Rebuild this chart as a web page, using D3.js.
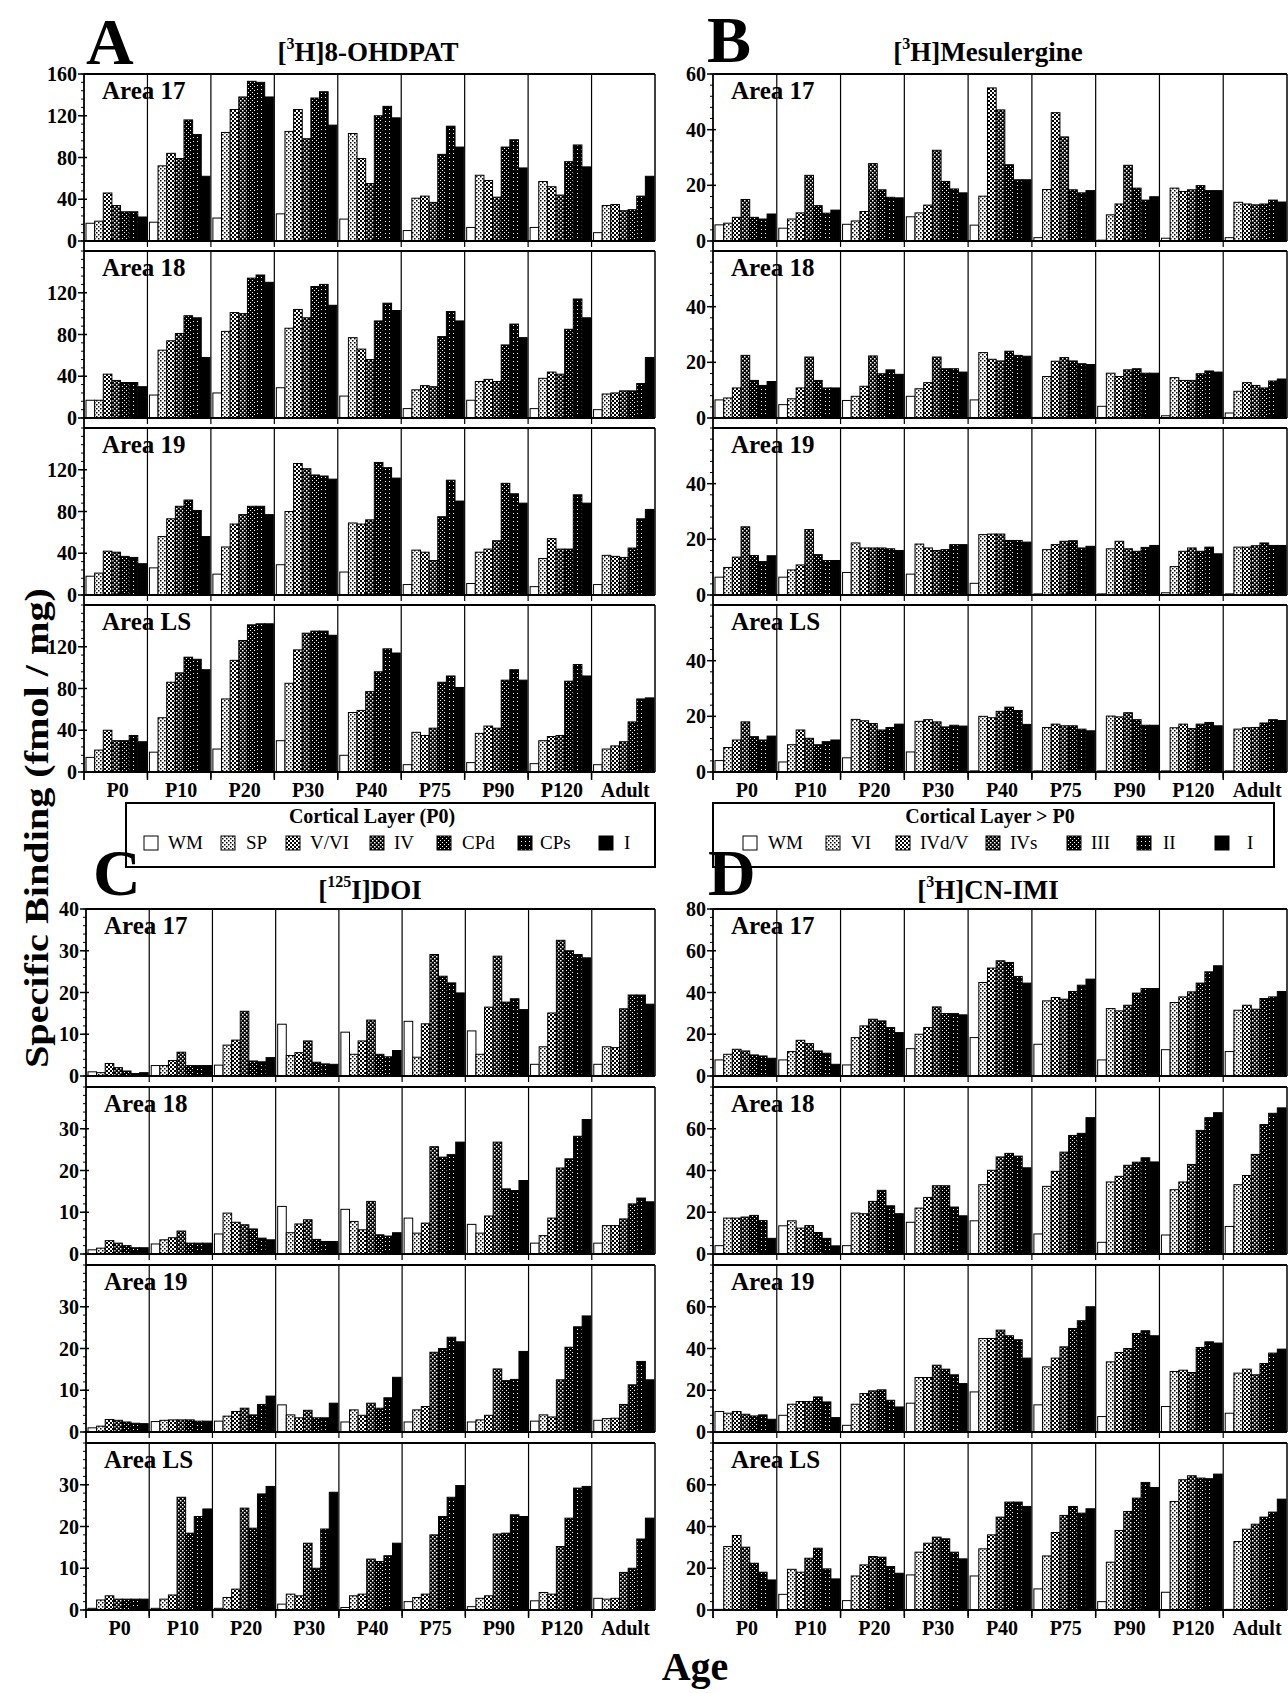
<!DOCTYPE html>
<html>
<head>
<meta charset="utf-8">
<script src="https://cdn.jsdelivr.net/npm/d3@7"></script>
<style>
  body { margin: 0; background: #fff; }
  svg { display: block; font-family: "Liberation Serif", "Times New Roman", serif; }
</style>
</head>
<body>
<svg id="fig"></svg>
<script>
// categories
const ages = ["P0", "P10", "P20", "P30", "P40", "P75", "P90", "P120", "Adult"];
const areas = ["Area 17", "Area 18", "Area 19", "Area LS"];
const layersP0 = ["WM", "SP", "V/VI", "IV", "CPd", "CPs", "I"];
const layersOlder = ["WM", "VI", "IVd/V", "IVs", "III", "II", "I"];

// A: [3H]8-OHDPAT, one row per age, 7 layers each
const ohdpat17 = [
  [17,19,46,34,28,28,23],[18,72,84,79,116,102,62],[22,104,126,138,153,152,138],
  [26,105,126,98,137,143,111],[21,103,79,55,120,129,118],[10,41,43,37,83,110,90],
  [13,63,58,42,90,97,70],[13,57,52,44,76,92,71],[8,34,35,29,30,43,62]];
const ohdpat18 = [
  [17,17,42,36,34,34,30],[22,65,74,81,98,96,58],[24,83,101,100,134,137,130],
  [29,86,104,96,126,128,108],[21,77,66,56,93,110,103],[9,27,31,30,78,102,93],
  [17,35,37,35,70,90,77],[9,38,44,42,85,114,96],[8,23,24,26,26,33,58]];
const ohdpat19 = [
  [18,21,42,41,37,36,30],[26,56,73,85,91,81,56],[20,46,68,77,85,85,77],
  [29,80,126,121,115,114,111],[22,69,68,72,127,122,112],[10,43,41,33,75,110,90],
  [11,41,44,52,107,97,88],[8,35,54,44,44,96,88],[10,38,37,36,45,73,82]];
const ohdpatLS = [
  [14,21,40,30,30,35,29],[19,52,86,95,110,108,98],[22,70,107,126,141,142,142],
  [30,85,117,133,135,135,131],[16,57,59,77,96,118,114],[7,38,35,42,86,92,81],
  [9,37,44,42,88,98,88],[8,30,34,35,87,103,92],[7,22,25,29,48,70,71]];

// B: [3H]Mesulergine
const mesul17 = [
  [5.8,6.4,8.5,14.9,8.5,7.9,9.7],[4.6,7.9,10.1,23.6,12.7,10,11.1],[6,7.2,10.6,27.8,18.4,15.7,15.5],
  [8.7,10.1,12.9,32.6,21.4,18.7,17.3],[5.7,16.1,55,47.1,27.4,22,22],[1.2,18.5,46.1,37.4,18.4,17.3,18.1],
  [0.3,9.4,13.3,27.2,19,14.7,15.9],[1,19,17.8,18.4,19.9,18.1,18.1],[1.2,13.9,13.3,13,13.3,14.7,14]];
const mesul18 = [
  [6.5,7.2,10.8,22.5,13.5,11.7,13.1],[4.8,6.9,10.8,21.9,13.5,10.8,10.8],[6.3,7.8,11.4,22.3,15.9,17.3,15.7],
  [7.8,10.5,12.7,21.9,17.7,17.7,16.5],[6.5,23.5,21.1,20.5,24,22.5,22.2],[0.2,14.9,20.4,21.7,20.5,19.5,19.2],
  [4.2,16.1,14.9,17.3,17.7,16.1,16.1],[0.8,14.5,13.5,13.5,15.9,16.9,16.5],[1.8,9.6,12.7,11.7,10.8,13.3,14]];
const mesul19 = [
  [6.4,9.9,13.6,24.5,14.2,12,14.1],[6.4,9,10.8,23.5,14.5,12.4,12.4],[8.1,18.7,16.9,16.9,16.9,16.6,16],
  [7.5,18.3,16.9,16,16.3,18.1,18.1],[4.2,21.7,21.9,21.9,19.6,19.6,19],[0.4,16.3,18.1,19.3,19.5,16.9,17.5],
  [0.4,16.6,19.3,16.6,15.7,17.1,17.8],[0.8,10.2,15.7,16.9,15.7,17.2,14.8],[0.4,17.2,17.2,17.7,18.7,17.8,17.8]];
const mesulLS = [
  [4.1,8.8,11.5,18,12.7,11.5,12.9],[3.6,9.8,15.1,12.1,9.8,10.9,11.5],[5.1,18.9,18.4,17.4,15.1,16,17.2],
  [7.2,18.2,18.8,18,16.2,16.8,16.5],[0.4,20,19.5,21.8,23.3,22.1,17.1],[0.4,16,17.2,16.6,16.6,15.4,14.8],
  [0.4,20.1,19.8,21.3,18.8,16.8,16.8],[0.4,15.9,17.2,15.6,17.2,17.8,16.6],[0.4,15.4,15.9,16,17.6,18.8,18.5]];

// C: [125I]DOI
const doi17 = [
  [1,0.8,3,2,1.2,0.6,0.8],[2.5,2.5,3.7,5.7,2.5,2.5,2.5],[2.6,7.4,8.6,15.5,3.6,3.4,4.4],
  [12.4,4.9,5.6,8.4,3.3,2.9,2.8],[10.5,5.2,8.4,13.4,5.2,4.6,6.1],[13.1,4.5,12.5,29.1,23.9,22.3,19.9],
  [10.8,5.2,16.5,28.7,17.7,18.5,15.9],[2.8,7,15.1,32.5,30,29.1,28.3],[2.8,7,6.8,16.1,19.4,19.4,17.2]];
const doi18 = [
  [1,1.4,3.2,2.6,2,1.5,1.5],[2.4,3.4,3.9,5.5,2.6,2.6,2.6],[4.8,9.8,7.6,7,6,3.8,3.4],
  [11.4,5.1,7.2,8.2,3.5,3,3],[10.7,7.8,5.8,12.6,4.6,4.3,5.1],[8.6,5,7.4,25.7,23.2,23.8,26.8],
  [7.1,5,9.1,26.8,15.6,15.2,17.6],[2.6,4.4,8.6,20.6,22.8,28.2,32.2],[2.6,6.8,6.8,8.4,12,13.4,12.5]];
const doi19 = [
  [1,1.4,3,2.8,2.4,2.1,2],[2.5,2.8,2.9,2.9,2.9,2.6,2.6],[2.6,3.8,4.9,5.7,4.1,6.6,8.6],
  [6.5,4.1,3.4,5.2,3.4,3.4,6.9],[2.4,5.3,4,6.9,5.7,8.2,13.1],[2.4,5.3,6.1,19.1,20,22.7,21.6],
  [2.4,2.9,4,15.1,12.3,12.6,19.3],[2.6,4.1,3.6,12.5,20.3,25.2,27.8],[2.8,3.2,3.3,6.6,11.3,16.9,12.5]];
const doiLS = [
  [0.4,2.4,3.4,2.6,2.6,2.6,2.6],[0.4,2.6,3.6,27,18.4,22.4,24.2],[0.4,3,5,24.4,19.6,27.8,29.6],
  [1.4,3.8,3.4,16,10,19.4,28.2],[0.6,3.4,3.8,12.2,11.6,13,16],[2,3,3.8,18,22.4,27,29.8],
  [0.8,2.8,3.4,18.2,18.4,22.8,22.4],[2.2,4.2,3.8,15.2,22,29.2,29.6],[2.8,2.6,2.8,9,10,17,22]];

// D: [3H]CN-IMI
const cnimi17 = [
  [7.7,10.4,12.8,12,10.1,9.6,8.5],[7.7,11.7,17.1,15.5,12,10.9,5.6],[5.3,18.4,24,27.2,26.4,23.2,20.8],
  [13.1,20,23.2,33.1,29.9,29.9,29.3],[18.4,44.8,51.7,55.2,54.4,47.7,44.5],[15.2,36,37.6,36.8,40.5,43.5,46.4],
  [7.7,32.3,31.2,33.9,39.7,41.9,41.9],[12.6,35.2,37.9,40.3,44.5,49.9,52.8],[11.7,31.5,33.9,32,37.1,37.9,40.5]];
const cnimi18 = [
  [4,17.2,17.2,17.7,18.5,16,7.5],[13.5,15.9,12.4,13.6,10.3,7.5,3.9],[4,19.6,19.3,25.2,30.5,23.1,19.3],
  [15.2,22,27.1,32.7,32.7,22.5,18.3],[15.9,33.2,40.1,46.5,48.2,46.9,41.3],[9.6,32.4,39.6,48.8,56.8,57.8,65.3],
  [5.6,34.5,37.2,42.5,44,46.1,44.1],[9.1,30.8,34.5,42.9,59.2,65.3,67.7],[13.2,33.2,37.6,47.7,62,67.4,70]];
const cnimi19 = [
  [9.8,9,9.8,8.5,7.7,8.2,6.1],[8,13.3,14.6,14.6,16.8,14.4,6.9],[3.2,13.3,18.4,19.7,20.2,15.2,12],
  [13.8,26.1,26.1,32,30.1,27.4,23.2],[19.2,44.8,44.8,48.8,46.1,44.2,35.4],[13,31.2,35.4,40.8,49.6,53.3,60],
  [7.4,33.6,38.1,40,47.2,48.5,46.1],[12.2,29,29.6,28.5,40.5,43.2,42.6],[9,28.2,30.1,27.4,32.8,37.8,39.7]];
const cnimiLS = [
  [0.3,30.4,35.7,30.1,22.4,18.1,14.4],[7.5,19.5,18.1,24.8,29.6,19.7,14.9],[4.5,16.3,21.6,25.6,25.3,20.8,17.6],
  [16.8,27.7,32,34.9,34.1,27.7,24.5],[16.3,29.3,36,44.5,51.7,51.7,49.6],[10.1,25.9,37.1,45.3,49.6,46.4,48.5],
  [4,22.9,38.1,47.2,53.6,61.1,58.7],[8.5,52,62.4,64.3,63.2,62.9,65.1],[0.3,32.8,38.7,41.1,44.5,46.9,53.1]];

const W = 1288, H = 1693;
const plotH = 167;

const svg = d3.select("#fig").attr("width", W).attr("height", H);
svg.append("rect").attr("width", W).attr("height", H).attr("fill", "#fff");

// stipple fills, light to dark
const defs = svg.append("defs");
const fills = [
  {bg: "#fff", fg: "#000", dots: []},
  {bg: "#fff", fg: "#000", dots: [[0,0,1.5],[2,2,1.5]]},
  {bg: "#fff", fg: "#000", dots: [[0,0,2],[2,2,2]]},
  {bg: "#000", fg: "#fff", dots: [[0,0,1.5],[2,2,1.5]]},
  {bg: "#000", fg: "#fff", dots: [[0,0,1],[2,2,1]]},
  {bg: "#000", fg: "#fff", dots: [[1,1,1]]},
  {bg: "#000", fg: "#fff", dots: []}
];
fills.forEach((f, i) => {
  let p = defs.append("pattern").attr("id", "f" + i)
    .attr("patternUnits", "userSpaceOnUse").attr("width", 4).attr("height", 4);
  p.append("rect").attr("width", 4).attr("height", 4).attr("fill", f.bg);
  f.dots.forEach(d => p.append("rect").attr("x", d[0]).attr("y", d[1])
    .attr("width", d[2]).attr("height", d[2]).attr("fill", f.fg));
});

const panels = [
  {letter: "A", lx: 86, ly: 64, sup: "3", name: "H]8-OHDPAT", tx: 368, ty: 61,
   x0: 84, x1: 655, zero0: 241, pitch: 177, max: 160, step: 40, rows: [ohdpat17, ohdpat18, ohdpat19, ohdpatLS]},
  {letter: "B", lx: 707, ly: 62, sup: "3", name: "H]Mesulergine", tx: 988, ty: 61,
   x0: 713, x1: 1287, zero0: 241, pitch: 177, max: 60, step: 20, rows: [mesul17, mesul18, mesul19, mesulLS]},
  {letter: "C", lx: 93, ly: 895, sup: "125", name: "I]DOI", tx: 370, ty: 899,
   x0: 86, x1: 655, zero0: 1076, pitch: 178, max: 40, step: 10, rows: [doi17, doi18, doi19, doiLS]},
  {letter: "D", lx: 708, ly: 895, sup: "3", name: "H]CN-IMI", tx: 988, ty: 899,
   x0: 713, x1: 1287, zero0: 1076, pitch: 178, max: 80, step: 20, rows: [cnimi17, cnimi18, cnimi19, cnimiLS]}
];

panels.forEach(p => {
  let g = svg.append("g");
  let x = d3.scaleBand().domain(ages).range([p.x0, p.x1]);
  let bw = x.bandwidth();
  let inner = d3.scaleBand().domain(d3.range(7)).range([2, bw - 1]);

  let t = g.append("text").attr("x", p.tx).attr("y", p.ty).attr("text-anchor", "middle")
    .attr("font-size", 27).attr("font-weight", "bold");
  t.append("tspan").text("[");
  t.append("tspan").attr("font-size", 16).attr("dy", -12).text(p.sup);
  t.append("tspan").attr("dy", 12).text(p.name);

  let lastZero = p.zero0 + 3 * p.pitch;
  let top0 = p.zero0 - plotH;

  p.rows.forEach((rowData, r) => {
    let zero = p.zero0 + r * p.pitch;
    let top = zero - plotH;
    let y = d3.scaleLinear().domain([0, p.max]).range([zero, top]);

    // bars
    rowData.forEach((vals, gi) => {
      g.selectAll(null).data(vals).enter().append("rect")
        .attr("x", (d, k) => x(ages[gi]) + inner(k))
        .attr("width", inner.bandwidth())
        .attr("y", d => y(d))
        .attr("height", d => zero - y(d))
        .attr("fill", (d, k) => "url(#f" + k + ")")
        .attr("stroke", "#000").attr("stroke-width", 1);
    });

    // group dividers
    g.selectAll(null).data(ages.slice(1)).enter().append("line")
      .attr("x1", d => x(d)).attr("x2", d => x(d))
      .attr("y1", top).attr("y2", zero + 6)
      .attr("stroke", "#000").attr("stroke-width", 1.2);
    if (r === 3) {
      g.selectAll(null).data(ages.slice(1)).enter().append("line")
        .attr("x1", d => x(d)).attr("x2", d => x(d))
        .attr("y1", zero).attr("y2", zero + 8)
        .attr("stroke", "#000").attr("stroke-width", 1.5);
    }

    // frame
    g.append("line").attr("x1", p.x0).attr("x2", p.x1).attr("y1", top).attr("y2", top)
      .attr("stroke", "#000").attr("stroke-width", 2.2);
    g.append("line").attr("x1", p.x0).attr("x2", p.x1).attr("y1", zero).attr("y2", zero)
      .attr("stroke", "#000").attr("stroke-width", 2.2);
    g.append("line").attr("x1", p.x1).attr("x2", p.x1).attr("y1", top).attr("y2", zero)
      .attr("stroke", "#000").attr("stroke-width", 1.5);

    // y ticks
    let minor = d3.range(0, p.max + 0.001, p.step / 5);
    g.selectAll(null).data(minor).enter().append("line")
      .attr("x1", p.x0 - 3).attr("x2", p.x0)
      .attr("y1", d => y(d)).attr("y2", d => y(d))
      .attr("stroke", "#000").attr("stroke-width", 1);
    let majors = d3.range(0, p.max + 0.001, p.step).filter(v => r === 0 || v < p.max);
    g.selectAll(null).data(majors).enter().append("line")
      .attr("x1", p.x0 - 6).attr("x2", p.x0 + 3)
      .attr("y1", d => y(d)).attr("y2", d => y(d))
      .attr("stroke", "#000").attr("stroke-width", 1.5);
    g.selectAll(null).data(majors).enter().append("text")
      .attr("x", p.x0 - 7).attr("y", d => y(d) + 7)
      .attr("text-anchor", "end").attr("font-size", 20).attr("font-weight", "bold")
      .text(d => d);

    g.append("text").attr("x", p.x0 + 18).attr("y", top + 25)
      .attr("font-size", 25).attr("font-weight", "bold").text(areas[r]);
  });

  // continuous y axis
  g.append("line").attr("x1", p.x0).attr("x2", p.x0).attr("y1", top0).attr("y2", lastZero + 8)
    .attr("stroke", "#000").attr("stroke-width", 1.8);

  // age labels
  g.selectAll(null).data(ages).enter().append("text")
    .attr("x", d => x(d) + bw / 2 + 2).attr("y", lastZero + 25)
    .attr("text-anchor", "middle").attr("font-size", 20).attr("font-weight", "bold")
    .text(d => d);
});

// legends
const legends = [
  {box: [126, 803, 529, 64], cx: 372, title: "Cortical Layer (P0)", names: layersP0,
   sx: [144, 221, 286, 370, 437, 518, 599], lx: [168, 246, 310, 394, 462, 540, 624]},
  {box: [713, 803, 561, 64], cx: 990, title: "Cortical Layer > P0", names: layersOlder,
   sx: [743, 826, 896, 986, 1067, 1137, 1215], lx: [768, 851, 920, 1010, 1091, 1163, 1247]}
];
legends.forEach(l => {
  let g = svg.append("g");
  g.append("rect").attr("x", l.box[0]).attr("y", l.box[1]).attr("width", l.box[2]).attr("height", l.box[3])
    .attr("fill", "#fff").attr("stroke", "#000").attr("stroke-width", 2);
  g.append("text").attr("x", l.cx).attr("y", l.box[1] + 20).attr("text-anchor", "middle")
    .attr("font-size", 20).attr("font-weight", "bold").text(l.title);
  l.names.forEach((n, i) => {
    g.append("rect").attr("x", l.sx[i]).attr("y", l.box[1] + 33).attr("width", 14).attr("height", 14)
      .attr("fill", "url(#f" + i + ")").attr("stroke", "#000").attr("stroke-width", 1);
    g.append("text").attr("x", l.lx[i]).attr("y", l.box[1] + 46)
      .attr("font-size", 19).text(n);
  });
});

// panel letters, drawn last so C and D sit over the legend boxes
panels.forEach(p => {
  svg.append("text").attr("x", p.lx).attr("y", p.ly)
    .attr("font-size", 66).attr("font-weight", "bold").text(p.letter);
});

// axis titles
svg.append("text").attr("transform", "translate(48,828) rotate(-90)")
  .attr("text-anchor", "middle").attr("font-size", 34).attr("font-weight", "bold")
  .attr("textLength", 480).attr("lengthAdjust", "spacingAndGlyphs")
  .text("Specific Binding (fmol / mg)");
svg.append("text").attr("x", 695).attr("y", 1680).attr("text-anchor", "middle")
  .attr("font-size", 40).attr("font-weight", "bold").text("Age");
</script>
</body>
</html>
